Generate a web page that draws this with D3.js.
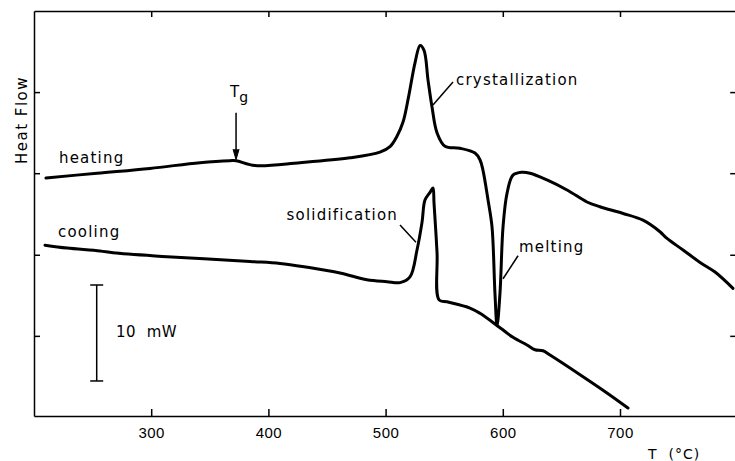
<!DOCTYPE html>
<html>
<head>
<meta charset="utf-8">
<script src="https://cdn.jsdelivr.net/npm/d3@7"></script>
<style>
	body { margin: 0; background: #fff; }
	svg { display: block; font-family: "DejaVu Sans", sans-serif; }
</style>
</head>
<body>
<figure id="dscChart" style="margin:0"></figure>
<script>
// temperature (°C) and heat flow (mW, arbitrary zero)
const heatingT = [210.2, 253.8, 299.0, 341.6, 367.2, 372.4, 388.6, 427.0, 469.6, 495.2, 504.0, 509.5, 514.8, 519.5, 525.1, 529.4,
	532.8, 536.2, 539.6, 543.9, 550.7, 563.5, 576.3, 580.5, 583.1, 587.4, 590.8, 593.3, 595.1, 597.6, 600.2, 603.6,
	608.7, 616.4, 623.2, 637.7, 655.6, 671.8, 682.9, 702.6, 719.6, 734.1, 740.1, 753.8, 768.3, 781.1, 796.4];
const heatingQ = [24.8, 25.3, 25.8, 26.4, 26.6, 26.6, 26.1, 26.4, 26.9, 27.5, 28.1, 29.1, 30.6, 33.2, 36.8, 38.6,
	38.1, 35.0, 32.2, 29.5, 28.1, 27.9, 27.4, 26.7, 25.6, 22.5, 19.7, 12.8, 9.4, 12.8, 19.7, 23.2,
	25.1, 25.4, 25.3, 24.6, 23.5, 22.3, 21.8, 21.1, 20.4, 19.2, 18.5, 17.3, 16.0, 15.0, 13.3];

const coolingT = [209.4, 228.2, 256.3, 267.4, 313.5, 384.3, 409.9, 433.0, 461.1, 484.1, 501.2, 512.3, 520.8, 526.8, 531.1,
	533.6, 537.9, 540.4, 541.3, 543.9, 545.6, 552.4, 572.0, 580.5, 597.6, 608.7, 620.6, 627.5, 634.3, 640.3, 665.9,
	688.9, 706.8];
const coolingQ = [17.8, 17.5, 17.2, 17.0, 16.6, 16.1, 15.9, 15.5, 14.9, 14.2, 14.0, 13.9, 14.5, 17.3, 20.2,
	22.5, 23.3, 23.75, 22.2, 17.0, 12.1, 11.9, 11.25, 10.7, 9.2, 8.2, 7.4, 6.9, 6.8, 6.35, 4.3,
	2.4, 0.83];

const xTicks = [300, 400, 500, 600, 700];
const yTicks = [8.35, 16.8, 25.3, 33.75];
const scaleBar = 10; // mW

const width = 735, height = 461;
const margin = { top: 11, bottom: 45, left: 34, right: -2.2 };

const svg = d3.select("figure#dscChart").append("svg")
	.attr("width", width).attr("height", height)
	.attr("viewBox", `0 0 ${width} ${height}`);

const xScale = d3.scaleLinear().domain([200, 800]).range([margin.left, width - margin.right]);
const yScale = d3.scaleLinear().domain([0, 42.2]).range([height - margin.bottom, margin.top]);

// frame with inward ticks
const xAxis = svg.append("g")
	.attr("transform", "translate(0," + yScale(0) + ")")
	.call(d3.axisBottom(xScale).tickValues(xTicks).tickSizeInner(-7).tickSizeOuter(0).tickPadding(11));
xAxis.selectAll(".tick text").attr("font-size", 15).attr("letter-spacing", 0.5).attr("fill", "#000");

svg.append("g")
	.attr("transform", "translate(0," + yScale(42.2) + ")")
	.call(d3.axisTop(xScale).tickValues(xTicks).tickSizeInner(-6).tickSizeOuter(0).tickFormat(""));

svg.append("g")
	.attr("transform", "translate(" + xScale(200) + ",0)")
	.call(d3.axisLeft(yScale).tickValues(yTicks).tickSizeInner(-6).tickSizeOuter(0).tickFormat(""));

svg.append("g")
	.attr("transform", "translate(" + xScale(800) + ",0)")
	.call(d3.axisRight(yScale).tickValues(yTicks).tickSizeInner(-7).tickSizeOuter(0).tickFormat(""));

svg.selectAll(".domain, .tick line").attr("stroke", "#000").attr("stroke-width", 1.5);

// curves
const line = d3.line()
	.x((d) => xScale(d[0]))
	.y((d) => yScale(d[1]))
	.curve(d3.curveCatmullRom.alpha(0.5));

const series = [d3.zip(heatingT, heatingQ), d3.zip(coolingT, coolingQ)];
svg.selectAll("path.trace").data(series).enter().append("path")
	.attr("class", "trace")
	.attr("d", line)
	.attr("fill", "none")
	.attr("stroke", "#000")
	.attr("stroke-width", 3)
	.attr("stroke-linejoin", "round")
	.attr("stroke-linecap", "round");

// labels
const label = (t, q, txt, anchor) => svg.append("text")
	.attr("x", xScale(t)).attr("y", yScale(q))
	.attr("font-size", 15).attr("letter-spacing", 1.2)
	.attr("text-anchor", anchor || "start")
	.text(txt);

const leader = (t1, q1, t2, q2) => svg.append("line")
	.attr("x1", xScale(t1)).attr("y1", yScale(q1))
	.attr("x2", xScale(t2)).attr("y2", yScale(q2))
	.attr("stroke", "#000").attr("stroke-width", 1.5);

label(221.3, 26.35, "heating");
label(220.5, 18.65, "cooling");
label(560.1, 34.5, "crystallization");
leader(557.5, 34.8, 540.4, 32.4);
label(510.6, 20.4, "solidification", "end");
leader(512.3, 19.9, 525.9, 18.1);
label(613.8, 17.1, "melting");
leader(613.0, 16.7, 600.2, 14.3);

// Tg arrow
const tg = svg.append("text")
	.attr("x", xScale(367.2)).attr("y", yScale(33.2))
	.attr("font-size", 15);
tg.append("tspan").text("T");
tg.append("tspan").attr("dy", 5).attr("font-size", 14).text("g");
leader(372.4, 31.6, 372.4, 27.2);
svg.append("path")
	.attr("d", d3.line()([[xScale(372.4) - 3, yScale(27.8)], [xScale(372.4), yScale(26.7)], [xScale(372.4) + 3, yScale(27.8)]]))
	.attr("fill", "#000").attr("stroke", "#000").attr("stroke-width", 1);

// 10 mW scale bar
const barT = 253.5, barQ0 = 3.65;
leader(barT, barQ0, barT, barQ0 + scaleBar);
[barQ0, barQ0 + scaleBar].forEach((q) => {
	svg.append("line")
		.attr("x1", xScale(barT) - 6.5).attr("x2", xScale(barT) + 6.5)
		.attr("y1", yScale(q)).attr("y2", yScale(q))
		.attr("stroke", "#000").attr("stroke-width", 1.5);
});
svg.append("text")
	.attr("x", xScale(270)).attr("y", yScale(8.2))
	.attr("font-size", 15).attr("letter-spacing", 0.5)
	.attr("xml:space", "preserve")
	.text("10  mW");

// axis titles
svg.append("text")
	.attr("transform", "translate(27,120) rotate(-90)")
	.attr("text-anchor", "middle")
	.attr("font-size", 15).attr("letter-spacing", 1.5)
	.text("Heat Flow");
svg.append("text")
	.attr("x", 648).attr("y", 459)
	.attr("font-size", 14).attr("letter-spacing", 1)
	.attr("xml:space", "preserve")
	.text("T  (°C)");
</script>
</body>
</html>
